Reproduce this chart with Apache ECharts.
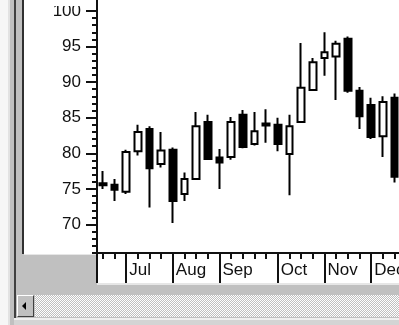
<!DOCTYPE html>
<html><head><meta charset="utf-8">
<script src="https://cdn.jsdelivr.net/npm/echarts@6/dist/echarts.min.js"></script>
<style>
html,body{margin:0;padding:0;width:399px;height:325px;overflow:hidden;background:#d4d4d4;position:relative}
.f{position:absolute}
#chart{position:absolute;left:0;top:-18px;width:401px;height:343px;z-index:2}
#cover{position:absolute;left:24px;top:0;width:72px;height:6px;background:#fff;z-index:3}
</style></head><body>
<div class="f" style="left:0;top:0;width:8px;height:325px;background:#f6f6f6"></div>
<div class="f" style="left:8px;top:0;width:2px;height:325px;background:#e2e2e2"></div>
<div class="f" style="left:10px;top:0;width:4px;height:325px;background:#c0c0c0"></div>
<div class="f" style="left:14px;top:0;width:2px;height:318px;background:#404040"></div>
<div class="f" style="left:16px;top:0;width:383px;height:318px;background:#c0c0c0"></div>
<div class="f" style="left:22px;top:0;width:2px;height:254px;background:#303030"></div>
<div class="f" style="left:24px;top:0;width:375px;height:254px;background:#fff"></div>
<div class="f" style="left:24px;top:254px;width:375px;height:1px;background:#e6e6e6"></div>
<div class="f" style="left:97px;top:254px;width:302px;height:29px;background:#fff"></div>
<div class="f" style="left:97px;top:283px;width:302px;height:2px;background:#e6e6e6"></div>
<div class="f" style="left:96px;top:253px;width:2px;height:30px;background:#111"></div>
<div class="f" style="left:35px;top:295px;width:364px;height:22px;background:repeating-conic-gradient(#c0c0c0 0 25%,#fff 0 50%) 0 0/2px 2px"></div>
<div class="f" style="left:17px;top:295px;width:17px;height:22px;background:#c0c0c0;border-top:1px solid #fff;border-left:1px solid #fff;border-right:1px solid #404040;border-bottom:1px solid #404040;box-sizing:border-box"></div>
<div class="f" style="left:22px;top:302px;width:0;height:0;border-top:4px solid transparent;border-bottom:4px solid transparent;border-right:4px solid #000"></div>
<div class="f" style="left:14px;top:318px;width:385px;height:2px;background:#f0f0f0"></div>
<div id="chart"></div>
<div id="cover"></div>
<script>
var weeks = ['1999-06-23','1999-06-30','1999-07-07','1999-07-14','1999-07-21','1999-07-28',
  '1999-08-04','1999-08-11','1999-08-18','1999-08-25','1999-09-01','1999-09-08','1999-09-15',
  '1999-09-22','1999-09-29','1999-10-06','1999-10-13','1999-10-20','1999-10-27','1999-11-03',
  '1999-11-10','1999-11-17','1999-11-24','1999-12-01','1999-12-08','1999-12-15'];
var opens  = [75.8,75.6,74.6,80.3,83.4,78.5,80.5,74.3,76.4,84.4,79.4,79.5,85.4,81.3,84.2,84.0,79.9,84.4,88.9,93.4,93.6,96.1,88.8,86.8,82.4,87.8];
var closes = [75.5,74.9,80.2,83.0,77.9,80.4,73.3,76.4,83.8,79.2,78.7,84.4,80.9,83.1,83.9,81.3,83.8,89.2,92.8,94.2,95.4,88.8,85.2,82.3,87.2,76.7];
var lows   = [75.0,73.3,74.3,79.7,72.4,78.0,70.2,73.3,76.3,79.1,75.0,79.1,80.7,81.1,81.5,80.3,74.1,84.3,88.8,90.9,87.5,88.5,83.4,82.0,79.5,75.9];
var highs  = [77.5,76.4,80.5,84.0,83.8,83.0,80.8,77.3,85.8,85.4,80.6,85.1,86.1,85.8,86.2,85.0,85.4,95.5,93.4,97.0,95.8,96.4,89.3,87.8,88.0,88.4];
var monthNames = ['Jan','Feb','Mar','Apr','May','Jun','Jul','Aug','Sep','Oct','Nov','Dec'];
var yTickLabels = [70,75,80,85,90,95,100];

function isMonthStart(w){ return parseInt(w.slice(8,10),10) <= 7; }
function monthLabel(w){ return isMonthStart(w) ? monthNames[parseInt(w.slice(5,7),10)-1] : ''; }

var ohlc = weeks.map(function(w,i){ return [opens[i], closes[i], lows[i], highs[i]]; });
var font = {fontFamily:'Liberation Sans, Arial, sans-serif', fontSize:17, color:'#111'};

var chart = echarts.init(document.getElementById('chart'), null, {renderer:'canvas'});
chart.setOption({
  animation:false,
  backgroundColor:'transparent',
  grid:{left:97, right:0.6, top:0.44, bottom:72, containLabel:false, outerBoundsMode:'none'},
  xAxis:[{
    type:'category', data:weeks, boundaryGap:true, position:'bottom',
    axisLine:{show:true, lineStyle:{color:'#111', width:2}},
    axisTick:{show:true, alignWithLabel:true, interval:0, length:6, lineStyle:{color:'#111', width:2}},
    axisLabel:Object.assign({show:true, interval:0, margin:9, align:'left', padding:[0,0,0,3],
      formatter:function(v){ return monthLabel(v); }}, font),
    splitLine:{show:false}
  },{
    type:'category', data:weeks, boundaryGap:true, position:'bottom', gridIndex:0,
    axisLine:{show:false},
    axisTick:{show:true, alignWithLabel:true, length:30,
      interval:function(idx, v){ return isMonthStart(v); },
      lineStyle:{color:'#111', width:2}},
    axisLabel:{show:false}, splitLine:{show:false}
  }],
  yAxis:[{
    type:'value', min:66, max:104, position:'left',
    axisLine:{show:true, lineStyle:{color:'#111', width:2}},
    axisTick:{show:true, length:11, customValues:yTickLabels, lineStyle:{color:'#111', width:2}},
    axisLabel:Object.assign({show:true, margin:16, customValues:yTickLabels}, font),
    splitLine:{show:false}
  },{
    type:'value', min:66, max:104, interval:1, position:'left',
    axisLine:{show:false},
    axisTick:{show:true, length:5, lineStyle:{color:'#111', width:2}},
    axisLabel:{show:false}, splitLine:{show:false}
  }],
  series:[{
    type:'candlestick', data:ohlc, xAxisIndex:0, yAxisIndex:0,
    barWidth:7,
    itemStyle:{color:'#ffffff', color0:'#000000', borderColor:'#000000', borderColor0:'#000000', borderColorDoji:'#000000', borderWidth:2}
  }]
});
</script>
</body></html>
